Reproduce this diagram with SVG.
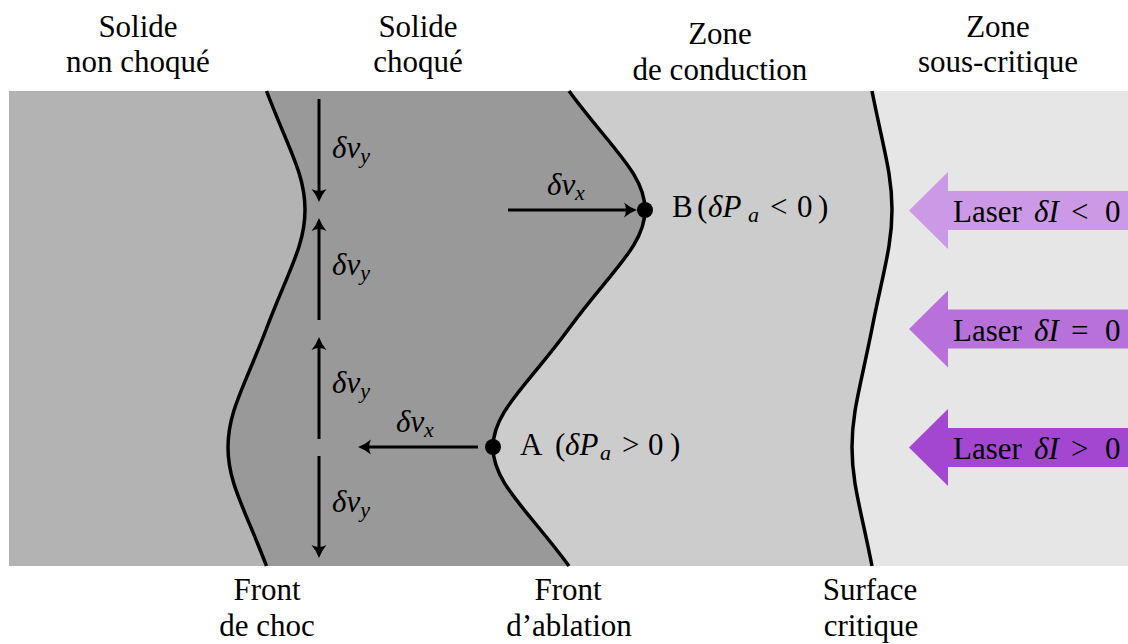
<svg xmlns="http://www.w3.org/2000/svg" width="1128" height="644" viewBox="0 0 1128 644" font-family="'Liberation Serif', 'DejaVu Serif', 'Times New Roman', serif">
<style>
text{font-family:'Liberation Serif','DejaVu Serif','Times New Roman',serif;font-size:31px;fill:#000}
.c{text-anchor:middle}
.i{font-style:italic}
.s{font-size:22px;font-style:italic}
.front{fill:none;stroke:#000;stroke-width:3.5}
.arr{fill:none;stroke:#000;stroke-width:3;marker-end:url(#ah)}
</style>
<defs>
<marker id="ah" markerUnits="userSpaceOnUse" viewBox="-16 -10 20 20" markerWidth="20" markerHeight="20" refX="-4" refY="0" orient="auto">
<path d="M0,0 Q-7,-2.5 -13,-7.5 Q-9,0 -13,7.5 Q-7,2.5 0,0 Z" fill="#000"/>
</marker>
</defs>
<g id="zone-sous-critique"><rect x="9" y="91" width="1119" height="475" fill="#e6e6e6"/></g>
<g id="zone-conduction"><path d="M9,91 L872,91 C883.8,150.4 892,174.1 892,209.75 C892,245.4 883.8,269.1 872,328.5 C860.2,387.9 852,411.6 852,447.25 C852,482.9 860.2,506.6 872,566 L9,566 Z" fill="#cccccc"/></g>
<g id="solide-choque"><path d="M9,91 L569,91 C611,148 645,174.1 645,209.75 C645,245.4 611,271 569,328.5 C527,386 493,411.6 493,447.25 C493,482.9 527,509 569,566 L9,566 Z" fill="#999999"/></g>
<g id="solide-non-choque"><path d="M9,91 L266.5,91 C289.2,150.4 305,174.1 305,209.75 C305,245.4 289.2,269.1 266.5,328.5 C243.8,387.9 228,411.6 228,447.25 C228,482.9 243.8,506.6 266.5,566 L9,566 Z" fill="#b3b3b3"/></g>
<g id="front-choc"><path class="front" d="M266.5,91 C289.2,150.4 305,174.1 305,209.75 C305,245.4 289.2,269.1 266.5,328.5 C243.8,387.9 228,411.6 228,447.25 C228,482.9 243.8,506.6 266.5,566"/></g>
<g id="front-ablation"><path class="front" d="M569,91 C611,148 645,174.1 645,209.75 C645,245.4 611,271 569,328.5 C527,386 493,411.6 493,447.25 C493,482.9 527,509 569,566"/></g>
<g id="surface-critique"><path class="front" d="M872,91 C883.8,150.4 892,174.1 892,209.75 C892,245.4 883.8,269.1 872,328.5 C860.2,387.9 852,411.6 852,447.25 C852,482.9 860.2,506.6 872,566"/></g>

<g id="connectors">
<line class="arr" x1="319" y1="99" x2="319" y2="198"/>
<line class="arr" x1="319" y1="320" x2="319" y2="222"/>
<line class="arr" x1="319" y1="439" x2="319" y2="341"/>
<line class="arr" x1="319" y1="456" x2="319" y2="554"/>
<line class="arr" x1="508" y1="210" x2="633" y2="210"/>
<line class="arr" x1="478" y1="447" x2="362" y2="447"/>
</g>

<g id="point-B"><circle cx="645" cy="210" r="8" fill="#000"/>
<text y="217"><tspan x="672">B</tspan><tspan x="697">(</tspan><tspan x="708" class="i">δP</tspan><tspan x="748" dy="5" class="s">a</tspan><tspan x="770" dy="-5">&lt;</tspan><tspan x="797">0</tspan><tspan x="818">)</tspan></text></g>
<g id="point-A"><circle cx="493" cy="447" r="8" fill="#000"/>
<text y="455"><tspan x="520">A</tspan><tspan x="555">(</tspan><tspan x="565" class="i">δP</tspan><tspan x="600" dy="5" class="s">a</tspan><tspan x="622" dy="-5">&gt;</tspan><tspan x="648">0</tspan><tspan x="670">)</tspan></text></g>

<g id="labels-dv">
<text x="332" y="158" class="i">δv<tspan class="s" dy="5">y</tspan></text>
<text x="332" y="275" class="i">δv<tspan class="s" dy="5">y</tspan></text>
<text x="332" y="393" class="i">δv<tspan class="s" dy="5">y</tspan></text>
<text x="332" y="512" class="i">δv<tspan class="s" dy="5">y</tspan></text>
<text x="547" y="195" class="i">δv<tspan class="s" dy="5" x="575">x</tspan></text>
<text x="396" y="432" class="i">δv<tspan class="s" dy="5" x="424">x</tspan></text>
</g>

<g id="laser-1"><path d="M909,210.5 L948,172 L948,191 L1128,191 L1128,230 L948,230 L948,249 Z" fill="#cc99e6"/>
<text y="222"><tspan x="953">Laser</tspan><tspan x="1034" class="i">δI</tspan><tspan x="1071">&lt;</tspan><tspan x="1105">0</tspan></text></g>
<g id="laser-2"><path d="M909,329 L948,290.5 L948,309.5 L1128,309.5 L1128,348.5 L948,348.5 L948,367.5 Z" fill="#b870db"/>
<text y="341"><tspan x="953">Laser</tspan><tspan x="1034" class="i">δI</tspan><tspan x="1071">=</tspan><tspan x="1105">0</tspan></text></g>
<g id="laser-3"><path d="M909,447.5 L948,409 L948,428 L1128,428 L1128,467 L948,467 L948,486 Z" fill="#a347d1"/>
<text y="459"><tspan x="953">Laser</tspan><tspan x="1034" class="i">δI</tspan><tspan x="1071">&gt;</tspan><tspan x="1105">0</tspan></text></g>

<g id="titles">
<text class="c" x="138" y="37">Solide</text><text class="c" x="138" y="72">non choqué</text>
<text class="c" x="418" y="37">Solide</text><text class="c" x="418" y="72">choqué</text>
<text class="c" x="720" y="44">Zone</text><text class="c" x="720" y="80">de conduction</text>
<text class="c" x="998" y="37">Zone</text><text class="c" x="998" y="72">sous-critique</text>
<text class="c" x="267" y="600">Front</text><text class="c" x="267" y="636">de choc</text>
<text class="c" x="568" y="600">Front</text><text class="c" x="569" y="636">d’ablation</text>
<text class="c" x="870" y="600">Surface</text><text class="c" x="871" y="636">critique</text>
</g>
</svg>
